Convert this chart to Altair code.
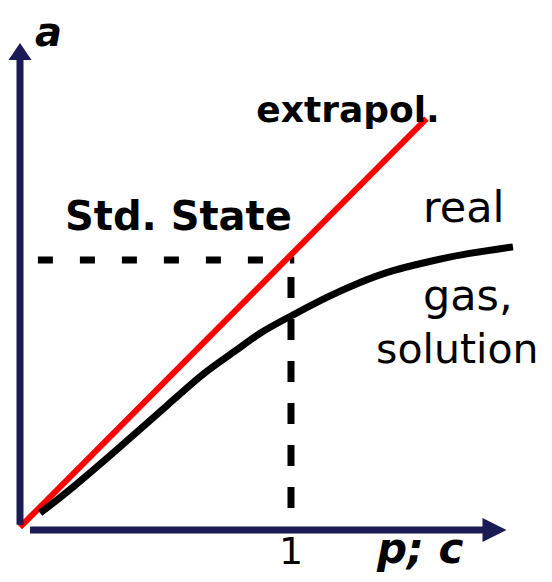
import altair as alt
import pandas as pd

# ---- data ----
red_x = [0.0, 1.5]
red_y = [-0.02, 1.54]

real_x = [0.074, 0.185, 0.369, 0.554, 0.675, 0.801, 0.886, 1.007, 1.133, 1.255, 1.376, 1.502, 1.613, 1.819]
real_y = [0.034, 0.122, 0.286, 0.454, 0.569, 0.656, 0.725, 0.790, 0.859, 0.916, 0.962, 0.992, 1.019, 1.050]

std_x = 1.0
std_y = 1.0

# ---- scales ----
XDOM = [-0.0443, 1.9336]
YDOM = [-0.1985, 1.9618]
xs = alt.Scale(domain=XDOM, nice=False, zero=False)
ys = alt.Scale(domain=YDOM, nice=False, zero=False)

NAVY = "#1a1a55"


def X(v):
    return alt.XDatum(v, scale=xs, axis=None)


def Y(v):
    return alt.YDatum(v, scale=ys, axis=None)


red_df = pd.DataFrame({"x": red_x, "y": red_y})
real_df = pd.DataFrame({"x": real_x, "y": real_y, "o": list(range(len(real_x)))})

red = alt.Chart(red_df).mark_line(color="#ff0000", strokeWidth=6).encode(
    x=alt.X("x:Q", scale=xs, axis=None), y=alt.Y("y:Q", scale=ys, axis=None)
)
real = alt.Chart(real_df).mark_line(
    color="black", strokeWidth=7, strokeCap="butt", interpolate="basis"
).encode(
    x=alt.X("x:Q", scale=xs, axis=None), y=alt.Y("y:Q", scale=ys, axis=None), order="o:Q"
)

blank = alt.Chart(pd.DataFrame({"d": [0]}))

hdash = blank.mark_rule(color="black", strokeWidth=7, strokeDash=[15, 27], strokeCap="butt").encode(
    x=X(0.066), x2=alt.X2Datum(std_x + 0.012), y=Y(std_y)
)
vdash = blank.mark_rule(color="black", strokeWidth=7, strokeDash=[21, 21], strokeCap="butt").encode(
    x=X(std_x), y=Y(0.935), y2=alt.Y2Datum(-0.03)
)

yaxis = blank.mark_rule(color=NAVY, strokeWidth=7, strokeCap="butt").encode(
    x=X(0.0), y=Y(-0.011), y2=alt.Y2Datum(1.77)
)
xaxis = blank.mark_rule(color=NAVY, strokeWidth=7, strokeCap="butt").encode(
    x=X(0.037), x2=alt.X2Datum(1.72), y=Y(-0.031)
)
yarrow = blank.mark_point(
    shape="M-1,0.74 L0,-0.74 L1,0.74 Z", size=529, filled=True, color=NAVY, opacity=1
).encode(x=X(0.0), y=Y(1.796))
xarrow = blank.mark_point(
    shape="M-1,-1 L1,0 L-1,1 Z", size=576, filled=True, color=NAVY, opacity=1
).encode(x=X(1.751), y=Y(-0.031))

FONT = "DejaVu Sans"


def label(txt, x, y, size, weight="normal", style="normal", align="left"):
    return blank.mark_text(
        text=txt, font=FONT, fontSize=size, fontWeight=weight, fontStyle=style,
        align=align, baseline="alphabetic", color="black"
    ).encode(x=X(x), y=Y(y))


texts = [
    label("a", 0.055, 1.818, 40, "bold", "italic"),
    label("extrapol.", 0.872, 1.527, 36, "bold"),
    label("Std. State", 0.166, 1.115, 40, "bold"),
    label("real", 1.487, 1.145, 43),
    label("gas,", 1.487, 0.809, 43),
    label("solution", 1.314, 0.607, 41),
    label("1", 1.0, -0.162, 38, align="center"),
    label("p; c", 1.317, -0.158, 42, "bold", "italic"),
]

chart = alt.layer(
    hdash, vdash, red, real, yaxis, xaxis, yarrow, xarrow, *texts
).properties(
    width=536, height=566, autosize=alt.AutoSizeParams(type="none"), padding=0
).configure_view(stroke=None, clip=False)

chart.save("out.html", embed_options={"renderer": "svg", "actions": False})
